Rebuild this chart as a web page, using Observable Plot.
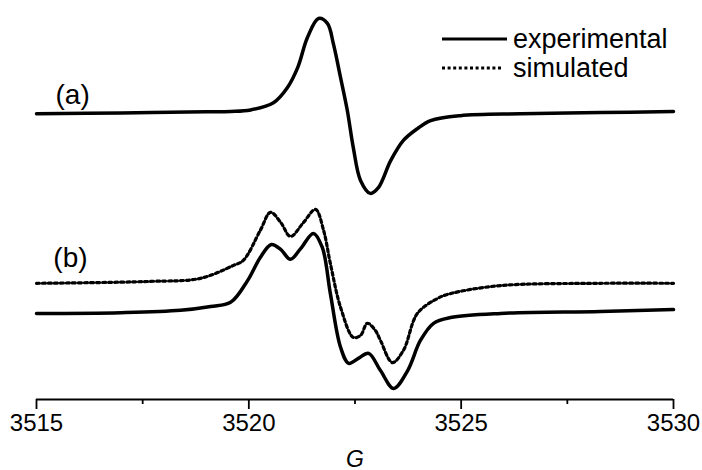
<!DOCTYPE html>
<html>
<head>
<meta charset="utf-8">
<script src="https://cdn.jsdelivr.net/npm/d3@7"></script>
<script src="https://cdn.jsdelivr.net/npm/@observablehq/plot@0.6"></script>
<style>
  html, body { margin: 0; padding: 0; background: #fff; }
  #wrap { position: relative; width: 702px; height: 470px; font-family: "Liberation Sans", Arial, Helvetica, sans-serif; }
  .row { position: absolute; left: 440px; display: flex; align-items: center; height: 28px; font-size: 27px; color: #000; line-height: 1; }
  .row svg { margin-right: 6px; }
</style>
</head>
<body>
<div id="wrap">
  <div class="row" style="top:25px"><svg width="67" height="8"><line x1="2" x2="67" y1="4" y2="4" stroke="#000" stroke-width="3.2"/></svg><span>experimental</span></div>
  <div class="row" style="top:54px"><svg width="67" height="8"><line x1="2" x2="61" y1="4" y2="4" stroke="#000" stroke-width="3" stroke-dasharray="3,2.6"/></svg><span>simulated</span></div>
</div>
<script>
// Magnetic field (G) and intensity (arbitrary units)
const aField = [3515.0, 3517.0, 3519.0, 3519.57, 3520.04, 3520.58, 3520.91, 3521.15, 3521.38, 3521.64, 3521.85, 3521.99, 3522.16, 3522.32, 3522.46, 3522.63, 3522.86, 3523.05, 3523.34, 3523.64, 3523.97, 3524.28, 3524.98, 3526.40, 3528.28, 3530.0];
const aExp   = [75.0, 75.2, 75.5, 75.6, 76.0, 77.9, 81.9, 87.1, 95.0, 100.0, 98.7, 93.4, 84.5, 75.8, 66.1, 57.5, 54.1, 55.6, 62.7, 68.0, 71.1, 73.2, 74.5, 75.0, 75.3, 75.6];

const bField = [3515.0, 3516.98, 3518.39, 3519.10, 3519.57, 3519.97, 3520.27, 3520.53, 3520.75, 3520.98, 3521.22, 3521.52, 3521.73, 3521.92, 3522.16, 3522.35, 3522.58, 3522.82, 3523.10, 3523.41, 3523.74, 3524.04, 3524.35, 3524.75, 3525.93, 3528.28, 3530.0];
const bExp   = [22.6, 22.8, 23.4, 24.4, 25.5, 31.2, 37.3, 40.7, 39.4, 36.8, 39.6, 43.6, 39.9, 27.8, 13.7, 9.5, 10.8, 12.1, 7.6, 2.9, 7.6, 15.5, 20.0, 21.5, 22.6, 23.1, 23.6];

const sField = [3515.0, 3517.68, 3518.86, 3519.64, 3519.87, 3520.27, 3520.51, 3520.75, 3520.98, 3521.29, 3521.57, 3521.76, 3521.92, 3522.16, 3522.46, 3522.63, 3522.79, 3522.98, 3523.10, 3523.38, 3523.64, 3523.97, 3524.44, 3524.75, 3525.93, 3528.28, 3530.0];
const bSim   = [30.5, 31.0, 31.8, 35.2, 36.5, 44.4, 49.1, 46.5, 42.8, 46.5, 49.9, 44.4, 35.7, 24.2, 16.3, 16.8, 20.0, 18.1, 15.5, 9.7, 12.9, 22.6, 26.5, 27.8, 29.9, 30.5, 30.5];

const majorTicks = [3515, 3520, 3525, 3530];
const minorTicks = [3517.5, 3522.5, 3527.5];
const panelNames = ["(a)", "(b)"];
const panelX = [3515.85, 3515.80];
const panelY = [80.0, 37.0];
const axisTitle = "G";

const rowsA = aField.map((x, i) => ({x, y: aExp[i]}));
const rowsB = bField.map((x, i) => ({x, y: bExp[i]}));
const rowsS = sField.map((x, i) => ({x, y: bSim[i]}));
const panels = panelNames.map((t, i) => ({t, x: panelX[i], y: panelY[i]}));

const chart = Plot.plot({
  width: 702,
  height: 470,
  marginLeft: 36,
  marginRight: 29,
  marginTop: 18,
  marginBottom: 71,
  style: {fontFamily: "'Liberation Sans', Arial, Helvetica, sans-serif", fontSize: "24px", color: "#000", background: "transparent"},
  x: {domain: [3515, 3530]},
  y: {domain: [0, 100], axis: null},
  marks: [
    Plot.axisX(majorTicks, {tickSize: 10, tickPadding: 4, strokeWidth: 1.8, fontSize: 24, label: null, tickFormat: d => String(d)}),
    Plot.axisX(minorTicks, {tickSize: 5, strokeWidth: 1.8, tickFormat: () => "", label: null}),
    Plot.ruleY([0], {stroke: "#000", strokeWidth: 2.2}),
    Plot.line(rowsA, {x: "x", y: "y", curve: "catmull-rom", stroke: "#000", strokeWidth: 3.5}),
    Plot.line(rowsB, {x: "x", y: "y", curve: "catmull-rom", stroke: "#000", strokeWidth: 3.5}),
    Plot.line(rowsS, {x: "x", y: "y", curve: "catmull-rom", stroke: "#000", strokeWidth: 3.2, strokeDasharray: "3,3"}),
    Plot.text(panels, {x: "x", y: "y", text: "t", fontSize: 28, fill: "#000"}),
    Plot.text([axisTitle], {frameAnchor: "bottom", dy: 67, text: d => d, fontSize: 23, fontStyle: "italic", fill: "#000"})
  ]
});
document.getElementById("wrap").prepend(chart);
chart.style.position = "absolute";
chart.style.left = "0";
chart.style.top = "0";
</script>
</body>
</html>
